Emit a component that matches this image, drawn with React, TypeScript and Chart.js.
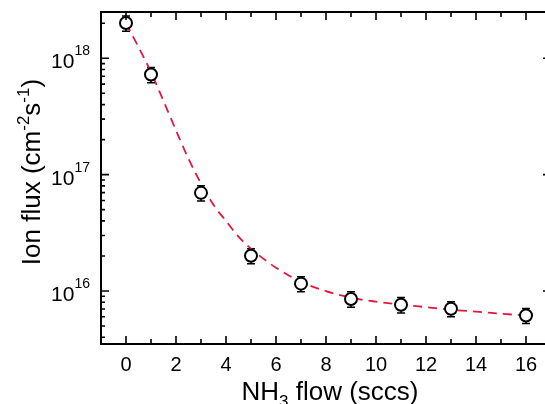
import { useEffect, useRef } from "react";
import { Chart, registerables } from "chart.js";

Chart.register(...registerables);

// Measured data (NH3 flow in sccs, ion flux in cm^-2 s^-1)
const flow = [0, 1, 3, 5, 7, 9, 11, 13, 16];
const flux = [2.01e18, 7.25e17, 6.97e16, 2.01e16, 1.156e16, 8.54e15, 7.62e15, 7.04e15, 6.16e15];
const fluxErr = [3.0e17, 1.1e17, 1.05e16, 3.0e15, 1.7e15, 1.3e15, 1.15e15, 1.05e15, 9.2e14];

// Fitted curve
const fitFlow = [0, 0.5, 1, 1.5, 2, 2.5, 3, 3.5, 4, 4.5, 5, 6, 7, 8, 9, 10, 11, 12, 13, 14, 15, 16];
const fitFlux = [
  2.0e18, 1.25e18, 7.6e17, 4.3e17, 2.4e17, 1.37e17, 8.4e16, 5.5e16, 4.0e16, 2.93e16, 2.31e16,
  1.585e16, 1.2e16, 9.96e15, 8.75e15, 8.09e15, 7.63e15, 7.26e15, 6.9e15, 6.64e15, 6.38e15, 6.14e15,
];

const xTickValues = [0, 2, 4, 6, 8, 10, 12, 14, 16];
const yDecades = [16, 17, 18];

const X_MIN = -1;
const X_MAX = 17;
const Y_MIN = 3.5e15;
const Y_MAX = 2.5e18;

const FONT = '"Liberation Sans", Arial, Helvetica, sans-serif';

const axesPlugin = {
  id: "customAxes",
  beforeDatasetsDraw(chart: any) {
    const ctx = chart.ctx;
    const xs = chart.scales.x;
    const ys = chart.scales.y;
    ctx.save();
    ctx.strokeStyle = "#000";
    ctx.lineWidth = 1.5;
    flow.forEach((f, i) => {
      const x = xs.getPixelForValue(f);
      const yt = ys.getPixelForValue(flux[i] + fluxErr[i]);
      const yb = ys.getPixelForValue(flux[i] - fluxErr[i]);
      ctx.beginPath();
      ctx.moveTo(x, yt);
      ctx.lineTo(x, yb);
      ctx.moveTo(x - 4, yt);
      ctx.lineTo(x + 4, yt);
      ctx.moveTo(x - 4, yb);
      ctx.lineTo(x + 4, yb);
      ctx.stroke();
    });
    ctx.restore();
  },
  afterDraw(chart: any) {
    const ctx = chart.ctx;
    const { left, right, top, bottom } = chart.chartArea;
    const xs = chart.scales.x;
    const ys = chart.scales.y;
    ctx.save();
    ctx.strokeStyle = "#000";
    ctx.fillStyle = "#000";
    ctx.lineWidth = 2;
    ctx.strokeRect(left, top, right - left, bottom - top);

    // x ticks (inward, top and bottom)
    ctx.lineWidth = 1.6;
    for (let v = X_MIN + 1; v < X_MAX; v++) {
      const x = xs.getPixelForValue(v);
      const len = v % 2 === 0 ? 8 : 5;
      ctx.beginPath();
      ctx.moveTo(x, bottom);
      ctx.lineTo(x, bottom - len);
      ctx.moveTo(x, top);
      ctx.lineTo(x, top + len);
      ctx.stroke();
    }
    // y ticks (inward, left and right)
    for (let k = 15; k <= 18; k++) {
      for (let m = 1; m <= 9; m++) {
        const v = m * Math.pow(10, k);
        if (v <= Y_MIN || v >= Y_MAX) continue;
        const y = ys.getPixelForValue(v);
        const len = m === 1 ? 8 : 4;
        ctx.beginPath();
        ctx.moveTo(left, y);
        ctx.lineTo(left + len, y);
        ctx.moveTo(right, y);
        ctx.lineTo(right - len, y);
        ctx.stroke();
      }
    }

    // x tick labels
    ctx.font = `20px ${FONT}`;
    ctx.textAlign = "center";
    ctx.textBaseline = "alphabetic";
    xTickValues.forEach((v) => {
      ctx.fillText(String(v), xs.getPixelForValue(v), bottom + 27);
    });

    // y tick labels: 10^k
    yDecades.forEach((k) => {
      const y = ys.getPixelForValue(Math.pow(10, k));
      ctx.font = `14px ${FONT}`;
      const sup = String(k);
      const supW = ctx.measureText(sup).width;
      const supX = 90 - supW;
      ctx.textAlign = "left";
      ctx.fillText(sup, supX, y - 3);
      ctx.font = `21px ${FONT}`;
      ctx.textAlign = "right";
      ctx.fillText("10", supX, y + 10);
    });

    // x title: NH3 flow (sccs)
    {
      const big = `26px ${FONT}`;
      const small = `17px ${FONT}`;
      const parts = [
        { t: "NH", f: big, dy: 0 },
        { t: "3", f: small, dy: 7 },
        { t: " flow (sccs)", f: big, dy: 0 },
      ];
      let total = 0;
      parts.forEach((p) => {
        ctx.font = p.f;
        total += ctx.measureText(p.t).width;
      });
      let x = 330 - total / 2;
      const base = 400;
      ctx.textAlign = "left";
      parts.forEach((p) => {
        ctx.font = p.f;
        ctx.fillText(p.t, x, base + p.dy);
        x += ctx.measureText(p.t).width;
      });
    }

    // y title: Ion flux (cm^-2 s^-1)
    {
      const big = `26px ${FONT}`;
      const small = `17px ${FONT}`;
      const parts = [
        { t: "Ion flux (cm", f: big, dy: 0 },
        { t: "-2", f: small, dy: -11 },
        { t: "s", f: big, dy: 0 },
        { t: "-1", f: small, dy: -11 },
        { t: ")", f: big, dy: 0 },
      ];
      let total = 0;
      parts.forEach((p) => {
        ctx.font = p.f;
        total += ctx.measureText(p.t).width;
      });
      ctx.translate(40, 172);
      ctx.rotate(-Math.PI / 2);
      let x = -total / 2;
      ctx.textAlign = "left";
      parts.forEach((p) => {
        ctx.font = p.f;
        ctx.fillText(p.t, x, p.dy);
        x += ctx.measureText(p.t).width;
      });
    }
    ctx.restore();
  },
};

export default function App() {
  const canvasRef = useRef<HTMLCanvasElement | null>(null);

  useEffect(() => {
    const canvas = canvasRef.current;
    if (!canvas) return;
    const chart = new Chart(canvas, {
      type: "scatter",
      data: {
        datasets: [
          {
            label: "Ion flux",
            data: flow.map((x, i) => ({ x, y: flux[i] })),
            showLine: false,
            pointRadius: 6,
            pointHoverRadius: 6,
            pointBorderWidth: 2,
            pointBackgroundColor: "#ffffff",
            pointBorderColor: "#000000",
            order: 0,
            clip: false,
          } as any,
          {
            label: "Fit",
            type: "line",
            data: fitFlow.map((x, i) => ({ x, y: fitFlux[i] })),
            borderColor: "#e3173e",
            borderWidth: 1.8,
            borderDash: [9, 6],
            pointRadius: 0,
            fill: false,
            cubicInterpolationMode: "monotone",
            order: 1,
          } as any,
        ],
      },
      options: {
        responsive: false,
        animation: false,
        devicePixelRatio: 1,
        layout: { padding: { left: 101, top: 12, right: 9, bottom: 60 } },
        plugins: {
          legend: { display: false },
          tooltip: { enabled: false },
        },
        scales: {
          x: { type: "linear", min: X_MIN, max: X_MAX, display: false },
          y: { type: "logarithmic", min: Y_MIN, max: Y_MAX, display: false },
        },
      },
      plugins: [axesPlugin],
    });
    return () => chart.destroy();
  }, []);

  return (
    <canvas
      ref={canvasRef}
      width={560}
      height={404}
      style={{ position: "fixed", left: 0, top: 0, width: 560, height: 404 }}
    />
  );
}
